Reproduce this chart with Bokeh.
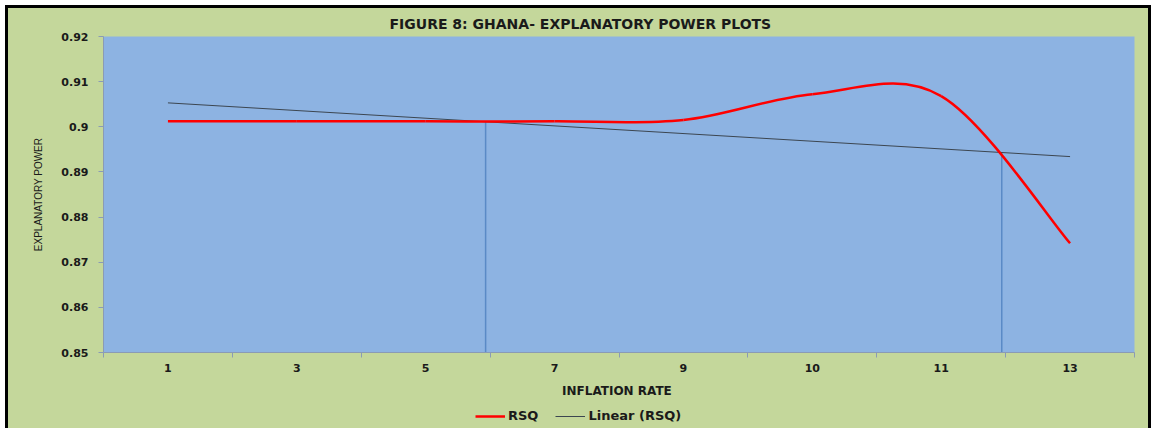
from bokeh.plotting import figure
from bokeh.layouts import column
from bokeh.models import FixedTicker, Legend, LegendItem, Range1d
from bokeh.embed import file_html
from bokeh.resources import INLINE

# ---- data ----
categories = ["1", "3", "5", "7", "9", "10", "11", "13"]
rsq = [0.9012, 0.9012, 0.9012, 0.9012, 0.9015, 0.9072, 0.9068, 0.8742]
trend_cats = ["1", "13"]
trend_rsq = [0.9053, 0.8934]
# drop lines (positions on the category index scale, 1 = first category)
threshold_pos = [3.465, 7.47]
threshold_top = [0.9013, 0.8943]
y_ticks = [0.85, 0.86, 0.87, 0.88, 0.89, 0.90, 0.91, 0.92]
y_tick_labels = ["0.85", "0.86", "0.87", "0.88", "0.89", "0.9", "0.91", "0.92"]
series_names = ["RSQ", "Linear (RSQ)"]

GREEN = "#c4d79b"
BLUE = "#8db3e2"
AXIS = "#8a9bb5"
RED = "#ff0000"
TREND = "#3c4650"
BOLD_FONT = "DejaVu Sans"

xs = list(range(1, len(categories) + 1))
cat_index = {c: i + 1 for i, c in enumerate(categories)}

p = figure(width=1140, height=392, output_backend="svg", toolbar_location=None,
           x_range=Range1d(0.5, len(categories) + 0.5), y_range=Range1d(0.85, 0.92),
           min_border_left=95, min_border_right=14, min_border_top=28, min_border_bottom=45)
p.background_fill_color = BLUE
p.border_fill_color = GREEN
p.outline_line_color = None
p.grid.visible = False

# title
p.title.text = "FIGURE 8: GHANA- EXPLANATORY POWER PLOTS"
p.title.align = "left"
p.title.offset = 286
p.title.text_font = BOLD_FONT
p.title.text_font_style = "bold"
p.title.text_font_size = "14px"
p.title.text_color = "#1a1a1a"
p.title.standoff = 10

# y axis
ya = p.yaxis[0]
ya.ticker = FixedTicker(ticks=y_ticks, minor_ticks=[])
ya.major_label_overrides = {t: l for t, l in zip(y_ticks, y_tick_labels)}
ya.axis_label = "EXPLANATORY POWER"
ya.axis_label_text_font = "Liberation Sans"
ya.axis_label_text_font_style = "normal"
ya.axis_label_text_font_size = "10px"
ya.axis_label_text_color = "#1a1a1a"
ya.axis_label_standoff = 14
ya.major_label_text_font = BOLD_FONT
ya.major_label_text_font_style = "bold"
ya.major_label_text_font_size = "11px"
ya.major_label_text_color = "#1a1a1a"
ya.major_label_standoff = 10
ya.major_tick_out = 5
ya.major_tick_in = 0
ya.axis_line_color = AXIS
ya.major_tick_line_color = AXIS

# x axis
xa = p.xaxis[0]
xa.ticker = FixedTicker(ticks=xs, minor_ticks=[x - 0.5 for x in xs] + [xs[-1] + 0.5])
xa.major_label_overrides = {x: c for x, c in zip(xs, categories)}
xa.axis_label = "INFLATION  RATE"
xa.axis_label_text_font = BOLD_FONT
xa.axis_label_text_font_style = "bold"
xa.axis_label_text_font_size = "12px"
xa.axis_label_text_color = "#1a1a1a"
xa.axis_label_standoff = 9
xa.major_label_text_font = BOLD_FONT
xa.major_label_text_font_style = "bold"
xa.major_label_text_font_size = "11px"
xa.major_label_text_color = "#1a1a1a"
xa.major_label_standoff = 6
xa.major_tick_line_color = None
xa.major_tick_out = 0
xa.major_tick_in = 0
xa.minor_tick_out = 5
xa.minor_tick_in = 0
xa.minor_tick_line_color = AXIS
xa.axis_line_color = AXIS

# drop lines
p.segment(x0=threshold_pos, y0=[0.85] * len(threshold_pos), x1=threshold_pos, y1=threshold_top,
          line_color="#5a8ac6", line_width=1.5)

# linear trend line
trend_x = [cat_index[c] for c in trend_cats]
p.line(trend_x, trend_rsq, line_color=TREND, line_width=1)

# smoothed RSQ curve (Excel-style smoothing: cubic Bezier through the data points)
n = len(xs)
bx0, by0, bx1, by1, bcx0, bcy0, bcx1, bcy1 = [], [], [], [], [], [], [], []
for i in range(n - 1):
    x0, y0 = (xs[i - 1], rsq[i - 1]) if i > 0 else (xs[i], rsq[i])
    x1, y1 = xs[i], rsq[i]
    x2, y2 = xs[i + 1], rsq[i + 1]
    x3, y3 = (xs[i + 2], rsq[i + 2]) if i + 2 < n else (xs[i + 1], rsq[i + 1])
    bx0.append(x1); by0.append(y1); bx1.append(x2); by1.append(y2)
    bcx0.append(x1 + (x2 - x0) / 6); bcy0.append(y1 + (y2 - y0) / 6)
    bcx1.append(x2 - (x3 - x1) / 6); bcy1.append(y2 - (y3 - y1) / 6)
p.bezier(x0=bx0, y0=by0, x1=bx1, y1=by1, cx0=bcx0, cy0=bcy0, cx1=bcx1, cy1=bcy1,
         line_color=RED, line_width=2.5)

# legend strip (separate small figure below the chart)
lf = figure(width=1140, height=28, output_backend="svg", toolbar_location=None,
            x_range=Range1d(0, 1), y_range=Range1d(0, 1), x_axis_type=None, y_axis_type=None,
            min_border_left=0, min_border_right=0, min_border_top=0, min_border_bottom=0)
lf.background_fill_color = GREEN
lf.border_fill_color = GREEN
lf.outline_line_color = None
lf.grid.visible = False
leg_rsq = lf.line([float("nan")], [float("nan")], line_color=RED, line_width=2.5)
leg_lin = lf.line([float("nan")], [float("nan")], line_color=TREND, line_width=1)

legend = Legend(items=[LegendItem(label=series_names[0], renderers=[leg_rsq]),
                       LegendItem(label=series_names[1], renderers=[leg_lin])],
                orientation="horizontal", location=(372, 5))
legend.background_fill_alpha = 0
legend.border_line_color = None
legend.label_text_font = BOLD_FONT
legend.label_text_font_style = "bold"
legend.label_text_font_size = "13px"
legend.label_text_color = "#1a1a1a"
legend.glyph_width = 30
legend.glyph_height = 12
legend.label_height = 12
legend.label_standoff = 3
legend.spacing = 17
legend.padding = 0
legend.margin = 0
lf.add_layout(legend, "center")

layout = column(p, lf, spacing=0)
layout.styles = {"margin-left": "8px", "margin-top": "8px", "background-color": GREEN,
                 "box-shadow": "-3px 0 0 0 #000, 3px 0 0 0 #000, 0 -3px 0 0 #000, "
                               "-3px -3px 0 0 #000, 3px -3px 0 0 #000"}
open("out.html", "w").write(file_html(layout, INLINE))
